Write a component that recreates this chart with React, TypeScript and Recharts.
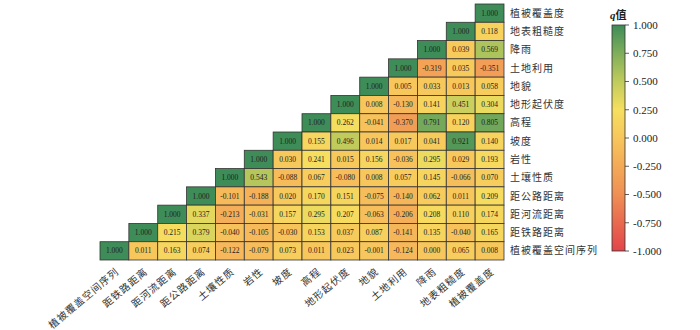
import React from "react";
import { ScatterChart, Scatter, XAxis, YAxis } from "recharts";

// variables, top row first (the x axis lists them in reverse order)
const variables = [
  "植被覆盖度",
  "地表粗糙度",
  "降雨",
  "土地利用",
  "地貌",
  "地形起伏度",
  "高程",
  "坡度",
  "岩性",
  "土壤性质",
  "距公路距离",
  "距河流距离",
  "距铁路距离",
  "植被覆盖空间序列",
];

// each row, left to right, starting at the diagonal
const row0 = [1.0];
const row1 = [1.0, 0.118];
const row2 = [1.0, 0.039, 0.569];
const row3 = [1.0, -0.319, 0.035, -0.351];
const row4 = [1.0, 0.005, 0.033, 0.013, 0.058];
const row5 = [1.0, 0.008, -0.13, 0.141, 0.451, 0.304];
const row6 = [1.0, 0.262, -0.041, -0.37, 0.791, 0.12, 0.805];
const row7 = [1.0, 0.155, 0.496, 0.014, 0.017, 0.041, 0.921, 0.14];
const row8 = [1.0, 0.03, 0.241, 0.015, 0.156, -0.036, 0.295, 0.029, 0.193];
const row9 = [1.0, 0.543, -0.088, 0.067, -0.08, 0.008, 0.057, 0.145, -0.066, 0.07];
const row10 = [1.0, -0.101, -0.188, 0.02, 0.17, 0.151, -0.075, -0.14, 0.062, 0.011, 0.209];
const row11 = [1.0, 0.337, -0.213, -0.031, 0.157, 0.295, 0.207, -0.063, -0.206, 0.208, 0.11, 0.174];
const row12 = [1.0, 0.215, 0.379, -0.04, -0.105, -0.03, 0.153, 0.037, 0.087, -0.141, 0.135, -0.04, 0.165];
const row13 = [1.0, 0.011, 0.163, 0.074, -0.122, -0.079, 0.073, 0.011, 0.023, -0.001, -0.124, 0.0, 0.065, 0.008];

const rows = [row0, row1, row2, row3, row4, row5, row6, row7, row8, row9, row10, row11, row12, row13];

const colorbarTicks = [1, 0.75, 0.5, 0.25, 0, -0.25, -0.5, -0.75, -1];

const colorStops: [number, string][] = [
  [-1, "#e2444a"],
  [-0.75, "#e9694f"],
  [-0.5, "#ef8f55"],
  [-0.25, "#f4a957"],
  [0, "#f7c65c"],
  [0.25, "#f6df5f"],
  [0.5, "#bfcb5c"],
  [0.75, "#7fae5a"],
  [1, "#3e8c58"],
];

const N = variables.length;
const W = 700;
const H = 330;
const M_LEFT = 100;
const M_TOP = 4;
const Y_AXIS_W = 196;
const X_AXIS_H = 70;
const CELL_W = (W - M_LEFT - Y_AXIS_W) / N;
const CELL_H = (H - M_TOP - X_AXIS_H) / N;

const SERIF = "'Liberation Serif', 'Times New Roman', serif";
const CJK = "'Liberation Serif', 'Noto Sans CJK SC', serif";

const hex = (c: string) => [1, 3, 5].map((i) => parseInt(c.slice(i, i + 2), 16));

function colorFor(v: number) {
  for (let i = 0; i < colorStops.length - 1; i++) {
    const [a, ca] = colorStops[i];
    const [b, cb] = colorStops[i + 1];
    if (v >= a && v <= b) {
      const t = (v - a) / (b - a);
      const A = hex(ca);
      const B = hex(cb);
      const mix = A.map((x, k) => Math.round(x + (B[k] - x) * t));
      return `rgb(${mix.join(",")})`;
    }
  }
  return colorStops[colorStops.length - 1][1];
}

const cells = rows.flatMap((vals, i) =>
  vals.map((v, k) => ({ x: N - 1 - i + k, y: i, v }))
);

const CellShape = (props: any) => {
  const { cx, cy, payload } = props;
  if (cx == null || cy == null) return null;
  return (
    <g>
      <rect
        x={cx - CELL_W / 2}
        y={cy - CELL_H / 2}
        width={CELL_W}
        height={CELL_H}
        fill={colorFor(payload.v)}
        stroke="#333"
        strokeWidth={0.8}
      />
      <text
        x={cx}
        y={cy}
        dy="0.35em"
        textAnchor="middle"
        fontSize={7.5}
        fontFamily={SERIF}
        fill="#222"
      >
        {payload.v.toFixed(3)}
      </text>
    </g>
  );
};

const XTick = (props: any) => {
  const { x, y, payload } = props;
  const label = variables[N - 1 - payload.value];
  return (
    <text
      x={x + 3}
      y={y + 2}
      transform={`rotate(-40, ${x + 3}, ${y + 2})`}
      textAnchor="end"
      dy="0.35em"
      fontSize={10}
      letterSpacing={1}
      fontFamily={CJK}
      fill="#333"
    >
      {label}
    </text>
  );
};

const YTick = (props: any) => {
  const { x, y, payload } = props;
  return (
    <text
      x={x}
      y={y}
      dy="0.35em"
      textAnchor="start"
      fontSize={10}
      letterSpacing={1}
      fontFamily={CJK}
      fill="#333"
    >
      {variables[payload.value]}
    </text>
  );
};

const BAR_X = 612;
const BAR_Y = 25;
const BAR_W = 13;
const BAR_H = 226;

function ColorBar() {
  const toY = (v: number) => BAR_Y + ((1 - v) / 2) * BAR_H;
  return (
    <svg
      width={W}
      height={H}
      style={{ position: "absolute", left: 0, top: 0, pointerEvents: "none" }}
    >
      <defs>
        <linearGradient id="qgrad" x1="0" y1="1" x2="0" y2="0">
          {colorStops.map(([v, c]) => (
            <stop key={v} offset={`${((v + 1) / 2) * 100}%`} stopColor={c} />
          ))}
        </linearGradient>
      </defs>
      <text x={BAR_X - 2} y={15} dy="0.35em" fontSize={11} fontFamily={CJK} fill="#222">
        <tspan fontStyle="italic" fontWeight="bold">q</tspan>
        <tspan fontWeight="bold">值</tspan>
      </text>
      <rect x={BAR_X} y={BAR_Y} width={BAR_W} height={BAR_H} fill="url(#qgrad)" stroke="#333" strokeWidth={0.8} />
      {colorbarTicks.map((t) => (
        <g key={t}>
          <line x1={BAR_X + BAR_W} x2={BAR_X + BAR_W + 4} y1={toY(t)} y2={toY(t)} stroke="#333" strokeWidth={0.8} />
          <text x={BAR_X + BAR_W + 8} y={toY(t)} dy="0.35em" fontSize={11} fontFamily={SERIF} fill="#222">
            {t.toFixed(3)}
          </text>
        </g>
      ))}
    </svg>
  );
}

export default function App() {
  const ticks = variables.map((_, i) => i);
  return (
    <div style={{ position: "fixed", left: 0, top: 0, width: W, height: H, background: "#fff" }}>
      <ScatterChart
        width={W}
        height={H}
        margin={{ top: M_TOP, right: 0, bottom: 0, left: M_LEFT }}
      >
        <XAxis
          type="number"
          dataKey="x"
          domain={[-0.5, N - 0.5]}
          ticks={ticks}
          interval={0}
          height={X_AXIS_H}
          axisLine={false}
          tickLine={false}
          tick={<XTick />}
        />
        <YAxis
          type="number"
          dataKey="y"
          orientation="right"
          reversed
          domain={[-0.5, N - 0.5]}
          ticks={ticks}
          interval={0}
          width={Y_AXIS_W}
          axisLine={false}
          tickLine={false}
          tickSize={4}
          tickMargin={2}
          tick={<YTick />}
        />
        <Scatter data={cells} shape={<CellShape />} isAnimationActive={false} />
      </ScatterChart>
      <ColorBar />
    </div>
  );
}
